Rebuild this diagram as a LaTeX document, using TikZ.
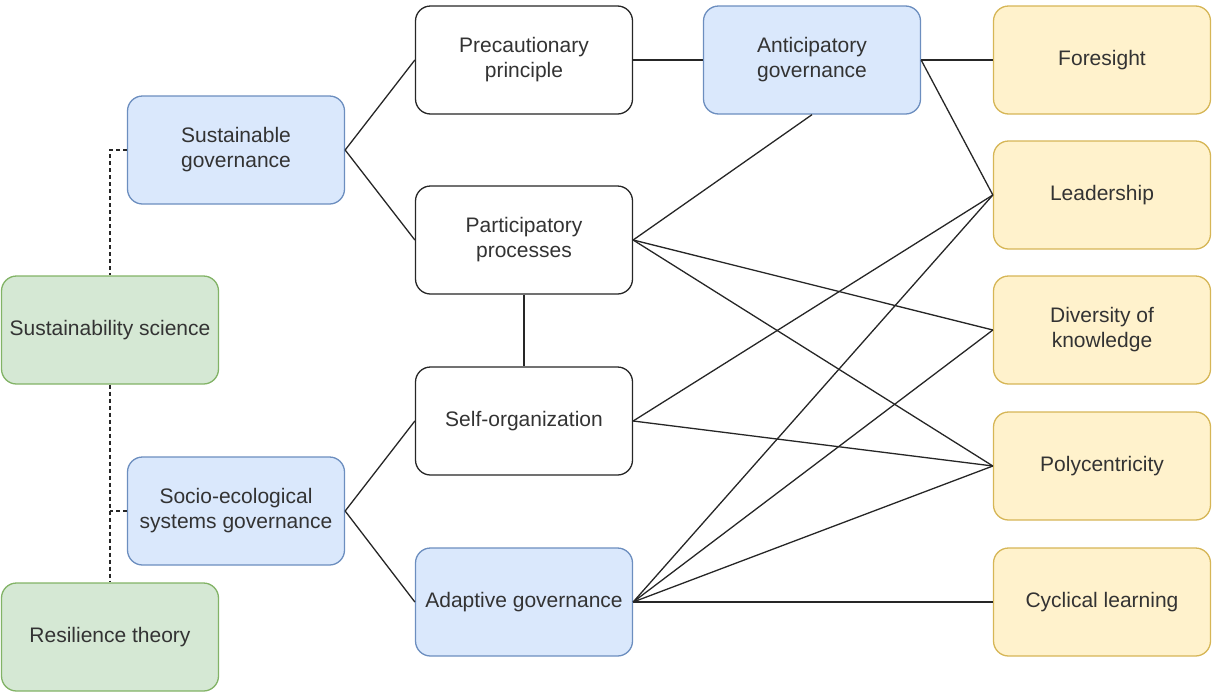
\documentclass[tikz,border=0pt]{standalone}
\usepackage{fontspec}
\setmainfont{Liberation Sans}
\definecolor{bluefill}{HTML}{DAE8FC}
\definecolor{blueline}{HTML}{6C8EBF}
\definecolor{greenfill}{HTML}{D5E8D4}
\definecolor{greenline}{HTML}{82B366}
\definecolor{yellowfill}{HTML}{FFF2CC}
\definecolor{yellowline}{HTML}{D6B656}
\definecolor{textgrey}{HTML}{333333}

\begin{document}
\begin{tikzpicture}[x=1pt, y=-1pt,
	box/.style={draw, rounded corners=15pt, minimum width=217pt, minimum height=108pt,
		align=center, line width=1.3pt, text=textgrey, font=\fontsize{21}{25}\selectfont},
	plainbox/.style={box, draw=black!85, fill=white},
	bluebox/.style={box, draw=blueline, fill=bluefill},
	greenbox/.style={box, draw=greenline, fill=greenfill},
	yellowbox/.style={box, draw=yellowline, fill=yellowfill},
	link/.style={line width=1.3pt, black!85},
	dashlink/.style={line width=1.3pt, black!85, dash pattern=on 4pt off 3pt}]
	%%%%% START %%%%%
	
	\useasboundingbox (0, 0) rectangle (1212, 691);
	
	% left column
	\node[greenbox] (scisust) at (110, 330) {Sustainability science};
	\node[greenbox] (resil) at (110, 637) {Resilience theory};
	\node[bluebox] (sustgov) at (236, 150) {Sustainable\\governance};
	\node[bluebox] (segov) at (236, 511) {Socio-ecological\\systems governance};
	
	% middle column
	\node[plainbox] (precaut) at (524, 60) {Precautionary\\principle};
	\node[plainbox] (particip) at (524, 240) {Participatory\\processes};
	\node[plainbox] (selforg) at (524, 421) {Self-organization};
	\node[bluebox] (adaptgov) at (524, 602) {Adaptive governance};
	\node[bluebox] (anticgov) at (812, 60) {Anticipatory\\governance};
	
	% right column
	\node[yellowbox] (foresight) at (1102, 60) {Foresight};
	\node[yellowbox] (leader) at (1102, 195) {Leadership};
	\node[yellowbox] (divers) at (1102, 330) {Diversity of\\knowledge};
	\node[yellowbox] (polyc) at (1102, 466) {Polycentricity};
	\node[yellowbox] (cyclic) at (1102, 602) {Cyclical learning};
	
	% dashed links
	\draw[dashlink] (sustgov.west) -| (scisust.north);
	\draw[dashlink] (scisust.south) -- (resil.north);
	\draw[dashlink] (segov.west) -- (segov.west -| scisust.south);
	
	% links
	\draw[link] (sustgov.east) -- (precaut.west);
	\draw[link] (sustgov.east) -- (particip.west);
	\draw[link] (segov.east) -- (selforg.west);
	\draw[link] (segov.east) -- (adaptgov.west);
	\draw[link] (precaut.east) -- (anticgov.west);
	\draw[link] (particip.south) -- (selforg.north);
	
	\draw[link] (anticgov.east) -- (foresight.west);
	\draw[link] (anticgov.east) -- (leader.west);
	\draw[link] (anticgov.south) -- (particip.east);
	
	\draw[link] (particip.east) -- (divers.west);
	\draw[link] (particip.east) -- (polyc.west);
	
	\draw[link] (selforg.east) -- (leader.west);
	\draw[link] (selforg.east) -- (polyc.west);
	
	\draw[link] (adaptgov.east) -- (leader.west);
	\draw[link] (adaptgov.east) -- (divers.west);
	\draw[link] (adaptgov.east) -- (polyc.west);
	\draw[link] (adaptgov.east) -- (cyclic.west);
	
	%%%%% END %%%%%
\end{tikzpicture}
\end{document}
